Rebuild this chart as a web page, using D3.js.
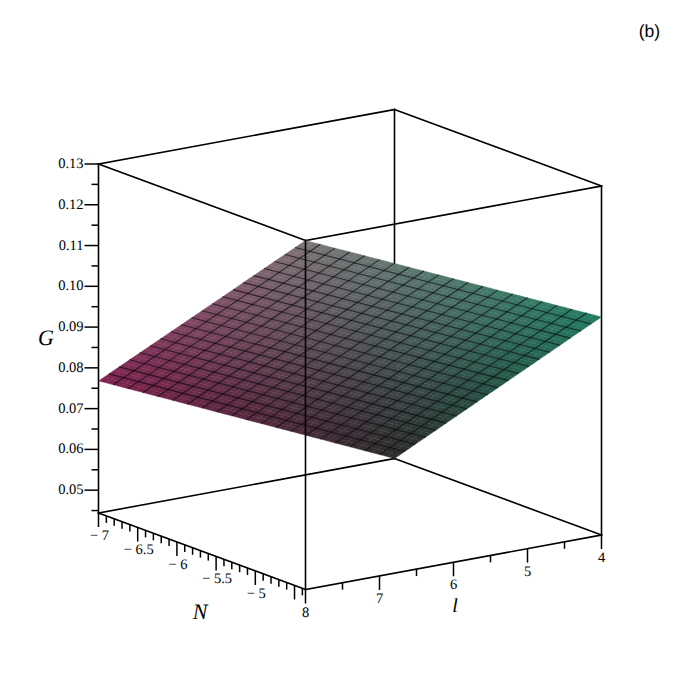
<!DOCTYPE html>
<html>
<head>
<meta charset="utf-8">
<script src="https://cdnjs.cloudflare.com/ajax/libs/d3/7.8.5/d3.min.js"></script>
<style>
html,body{margin:0;padding:0;background:#fff}
svg{display:block}
text{text-rendering:geometricPrecision}
</style>
</head>
<body>
<svg id="c" width="700" height="700"></svg>
<script>
// ---- data ----
const nDomain = [-7, -4.36];
const lDomain = [8, 4];
const gDomain = [0.0444, 0.13];
const gMajorTicks = [0.05, 0.06, 0.07, 0.08, 0.09, 0.10, 0.11, 0.12, 0.13];
const gMinorTicks = [0.045, 0.055, 0.065, 0.075, 0.085, 0.095, 0.105, 0.115, 0.125];
const nMajorTicks = [-7, -6.5, -6, -5.5, -5, -4.5];
const nMinorTicks = [-6.9,-6.8,-6.7,-6.6,-6.4,-6.3,-6.2,-6.1,-5.9,-5.8,-5.7,-5.6,-5.4,-5.3,-5.2,-5.1,-4.9,-4.8,-4.7,-4.6,-4.4];
const nTickLabels = ["\u2212 7", "\u2212 6.5", "\u2212 6", "\u2212 5.5", "\u2212 5", ""];
const lMajorTicks = [8, 7, 6, 5, 4];
const lMinorTicks = [7.5, 6.5, 5.5, 4.5];
// surface height at the four corners: rows N = -7, N = -4.36; columns l = 8, l = 4
const surfaceG = [[0.0768, 0.0444], [0.13, 0.0979]];
// corner colours, same layout
const surfaceColors = [["#80224f", "#2b2b2b"], ["#7d7478", "#217c62"]];
const meshCells = 20;

// ---- oblique projection built from linear scales ----
const xN = d3.scaleLinear().domain(nDomain).range([98.5, 305.5]);
const yN = d3.scaleLinear().domain(nDomain).range([0, 76.5]);
const xL = d3.scaleLinear().domain(lDomain).range([0, 296]);
const yL = d3.scaleLinear().domain(lDomain).range([0, -54.5]);
const yG = d3.scaleLinear().domain(gDomain).range([513, 164]);
const P = (n, l, g) => [xN(n) + xL(l), yN(n) + yL(l) + yG(g)];

const svg = d3.select("#c");
const [n0, n1] = nDomain, [l0, l1] = lDomain, [g0, g1] = gDomain;
const line = d3.line();
const serif = "'Liberation Serif','Times New Roman',serif";

function edges(g, list) {
  g.selectAll("line").data(list).join("line")
    .attr("x1", d => d[0][0]).attr("y1", d => d[0][1])
    .attr("x2", d => d[1][0]).attr("y2", d => d[1][1])
    .attr("stroke", "#000").attr("stroke-width", 1.6).attr("stroke-linecap", "square");
}

// back edges, hidden by the surface where they pass behind it
edges(svg.append("g"), [
  [P(n0,l1,g0), P(n0,l1,g1)],
  [P(n0,l0,g0), P(n0,l1,g0)],
  [P(n0,l1,g0), P(n1,l1,g0)],
  [P(n0,l0,g1), P(n0,l1,g1)],
  [P(n0,l1,g1), P(n1,l1,g1)],
  [P(n0,l0,g1), P(n1,l0,g1)],
  [P(n1,l0,g1), P(n1,l1,g1)],
  [P(n1,l1,g0), P(n1,l1,g1)],
  [P(n0,l0,g0), P(n0,l0,g1)]
]);

// surface mesh
const fr = d3.range(meshCells + 1).map(i => i / meshCells);
const nAt = d3.interpolateNumber(n0, n1), lAt = d3.interpolateNumber(l0, l1);
const lerp = (a, b, t) => a + (b - a) * t;
const gAt = (u, v) => lerp(lerp(surfaceG[0][0], surfaceG[0][1], v), lerp(surfaceG[1][0], surfaceG[1][1], v), u);
const colAt = (u, v) => d3.interpolateRgb(
  d3.interpolateRgb(surfaceColors[0][0], surfaceColors[0][1])(v),
  d3.interpolateRgb(surfaceColors[1][0], surfaceColors[1][1])(v))(u);
const S = (u, v) => P(nAt(u), lAt(v), gAt(u, v));

// fine shading tiles so the colour blends smoothly inside each mesh cell
const k = meshCells * 2;
const shadeSteps = d3.range(k);
const shade = shadeSteps.flatMap(i => shadeSteps.map(j => ({ i, j })));
svg.append("g").selectAll("path").data(shade).join("path")
  .attr("d", d => line([S(d.i/k,d.j/k), S((d.i+1)/k,d.j/k), S((d.i+1)/k,(d.j+1)/k), S(d.i/k,(d.j+1)/k)]) + "Z")
  .attr("fill", d => colAt((d.i+.5)/k, (d.j+.5)/k))
  .attr("stroke", d => colAt((d.i+.5)/k, (d.j+.5)/k))
  .attr("stroke-width", 0.4);

const meshLines = fr.slice(1, -1).flatMap(t => [[S(t, 0), S(t, 1)], [S(0, t), S(1, t)]]);
svg.append("g").selectAll("path").data(meshLines).join("path")
  .attr("d", d => line(d)).attr("fill", "none")
  .attr("stroke", "#000").attr("stroke-opacity", 0.65).attr("stroke-width", 1.1);

// front edges
edges(svg.append("g"), [
  [P(n1,l0,g0), P(n1,l0,g1)],
  [P(n0,l0,g0), P(n1,l0,g0)],
  [P(n1,l0,g0), P(n1,l1,g0)]
]);

// ticks
function ticks(list, fn) {
  svg.append("g").selectAll("line").data(list).join("line")
    .each(function (d) {
      const [a, b] = fn(d);
      d3.select(this).attr("x1", a[0]).attr("y1", a[1]).attr("x2", b[0]).attr("y2", b[1]);
    })
    .attr("stroke", "#000").attr("stroke-width", 1.5);
}
const major = 14, minor = 7;
ticks(gMajorTicks, g => [P(n0,l0,g), [P(n0,l0,g)[0] - major, P(n0,l0,g)[1]]]);
ticks(gMinorTicks, g => [P(n0,l0,g), [P(n0,l0,g)[0] - minor, P(n0,l0,g)[1]]]);
ticks(nMajorTicks, n => [P(n,l0,g0), [P(n,l0,g0)[0], P(n,l0,g0)[1] + major]]);
ticks(nMinorTicks, n => [P(n,l0,g0), [P(n,l0,g0)[0], P(n,l0,g0)[1] + minor]]);
ticks(lMajorTicks, l => [P(n1,l,g0), [P(n1,l,g0)[0], P(n1,l,g0)[1] + major]]);
ticks(lMinorTicks, l => [P(n1,l,g0), [P(n1,l,g0)[0], P(n1,l,g0)[1] + minor]]);

// tick labels
const label = (x, y, t, size, anchor, style, family) => svg.append("text")
  .attr("x", x).attr("y", y).attr("text-anchor", anchor || "middle")
  .attr("dominant-baseline", "central")
  .attr("font-family", family || serif).attr("font-size", size)
  .attr("font-style", style || "normal").attr("fill", "#000").text(t);

gMajorTicks.forEach(g => {
  const p = P(n0,l0,g);
  label(p[0] - major - 1, p[1], g.toFixed(2), 14.5, "end");
});
nMajorTicks.forEach((n, i) => {
  const p = P(n,l0,g0);
  if (nTickLabels[i]) label(p[0] + 1, p[1] + major + 9, nTickLabels[i], 14.5);
});
lMajorTicks.forEach(l => {
  const p = P(n1,l,g0);
  label(p[0], p[1] + major + 9, String(l), 14.5);
});

// axis titles and panel tag
label(46, 337, "G", 22, "middle", "italic");
label(200, 611, "N", 22, "middle", "italic");
label(455, 606, "l", 20, "middle", "italic");
label(649.5, 31, "(b)", 17.5, "middle", "normal", "'Liberation Sans',Arial,sans-serif");
</script>
</body>
</html>
